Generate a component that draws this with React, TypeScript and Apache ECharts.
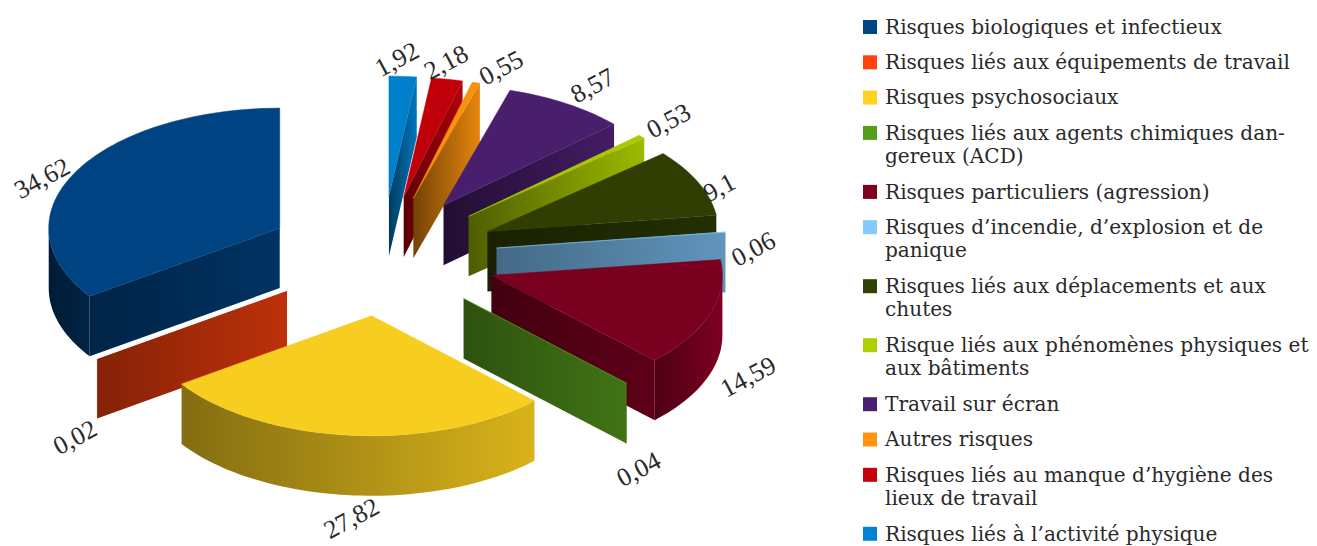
import React, { useEffect, useRef } from "react";
import * as echarts from "echarts";

const categories = [
  "Risques biologiques et infectieux",
  "Risques liés aux équipements de travail",
  "Risques psychosociaux",
  "Risques liés aux agents chimiques dan-\ngereux (ACD)",
  "Risques particuliers (agression)",
  "Risques d’incendie, d’explosion et de\npanique",
  "Risques liés aux déplacements et aux\nchutes",
  "Risque liés aux phénomènes physiques et\naux bâtiments",
  "Travail sur écran",
  "Autres risques",
  "Risques liés au manque d’hygiène des\nlieux de travail",
  "Risques liés à l’activité physique",
];
const values = [34.62, 0.02, 27.82, 0.04, 14.59, 0.06, 9.1, 0.53, 8.57, 0.55, 2.18, 1.92];
const colors = ["#004586", "#ff420e", "#ffd320", "#579d1c", "#7e0021", "#83caff", "#314004", "#aecf00", "#4b1f6f", "#ff950e", "#c5000b", "#0084d1"];
// Pixel nudges of the value labels from the rim of their slice
const labelNudgeX = [-33, -22, 1, 12, 38, 28, 21, 27, 26, 25, -1, -6];
const labelNudgeY = [6, 79, 83, 86, 63, 17, 5, -16, -18, -15, -17, -17];

const CX = 382, CY = 256, RX = 231, RY = 120, EXPLODE = 0.5, DEPTH = 60;
const SERIF = '"Liberation Serif", serif';
const LEGEND_SERIF = '"DejaVu Serif", serif';
const total = values.reduce((s, v) => s + v, 0);

function shade(hex: string, f: number) {
  const n = parseInt(hex.slice(1), 16);
  const c = [(n >> 16) & 255, (n >> 8) & 255, n & 255].map((x) => Math.round(x * f));
  return `rgb(${c[0]},${c[1]},${c[2]})`;
}
function hGrad(hex: string, left: number, right: number) {
  return {
    type: "linear", x: 0, y: 0, x2: 1, y2: 0,
    colorStops: [{ offset: 0, color: shade(hex, left) }, { offset: 1, color: shade(hex, right) }],
  };
}

// rows: [value, startAngle, endAngle, category index], painted from back to front
let acc = 0;
const rows = values
  .map((v, i) => {
    const a1 = (acc / total) * 2 * Math.PI;
    acc += v;
    const a2 = (acc / total) * 2 * Math.PI;
    return [v, a1, a2, i];
  })
  .sort((p, q) => -Math.cos((p[1] + p[2]) / 2) - -Math.cos((q[1] + q[2]) / 2));

const frontLight = (a: number) => 0.4 + (0.6 * (a - Math.PI / 2)) / Math.PI;
const rimLeft = (a: number) => (a < 1.2 * Math.PI ? frontLight(a) : 0.6);
const rimRight = (a: number) => (a < Math.PI ? frontLight(a) : a < 1.45 * Math.PI ? 0.85 : 1);

function renderItem(_params: any, api: any) {
  const v = api.value(0), a1 = api.value(1), a2 = api.value(2), i = api.value(3);
  const color = colors[i];
  const mid = (a1 + a2) / 2;
  const ox = CX - Math.sin(mid) * EXPLODE * RX;
  const oy = CY - Math.cos(mid) * EXPLODE * RY;
  const rim = (a: number, dz = 0) => [ox - Math.sin(a) * RX, oy - Math.cos(a) * RY + dz];
  const arc = (from: number, to: number, dz = 0) => {
    const n = Math.max(2, Math.ceil(Math.abs(to - from) / 0.03));
    const pts: number[][] = [];
    for (let k = 0; k <= n; k++) pts.push(rim(from + ((to - from) * k) / n, dz));
    return pts;
  };
  const children: any[] = [];
  const wall = (a: number) => ({
    type: "polygon",
    shape: { points: [[ox, oy], rim(a), rim(a, DEPTH), [ox, oy + DEPTH]] },
    style: { fill: a > 1.6 * Math.PI ? hGrad(color, 0.45, 0.9) : hGrad(color, 0.52, 0.74) },
  });
  if (Math.sin(a2) > 0) children.push(wall(a2));
  if (Math.sin(a1) < 0) children.push(wall(a1));
  const w1 = a1 < Math.PI / 2 ? Math.PI / 2 : a1;
  const w2 = a2 > 1.5 * Math.PI ? 1.5 * Math.PI : a2;
  if (w2 > w1 && w1 < 1.5 * Math.PI) {
    children.push({
      type: "polygon",
      shape: { points: [...arc(w1, w2), ...arc(w2, w1, DEPTH)] },
      style: { fill: hGrad(color, rimLeft(w1), rimRight(w2)) },
    });
  }
  children.push({
    type: "polygon",
    shape: { points: [[ox, oy], ...arc(a1, a2)] },
    style: {
      fill: shade(color, 0.97),
      stroke: v < 0.03 ? "#ffffff" : shade(color, 0.97),
      lineWidth: v < 0.03 ? 1.2 : 0.5,
    },
  });
  const outer = [CX - Math.sin(mid) * 1.5 * RX, CY - Math.cos(mid) * 1.5 * RY];
  children.push({
    type: "text",
    x: outer[0] + labelNudgeX[i],
    y: outer[1] + labelNudgeY[i],
    rotation: (28 * Math.PI) / 180,
    style: {
      text: String(v).replace(".", ","),
      font: `26px ${SERIF}`,
      fill: "#2a2a2a",
      align: "center",
      verticalAlign: "middle",
    },
  });
  return { type: "group", children };
}

function legendElements() {
  const out: any[] = [];
  let y = 27;
  categories.forEach((name, i) => {
    out.push({
      type: "rect",
      shape: { x: 863, y: y - 7, width: 14, height: 14 },
      style: { fill: colors[i] },
    });
    out.push({
      type: "text",
      x: 885,
      y: y - 12,
      style: { text: name, font: `20.1px ${LEGEND_SERIF}`, lineHeight: 23.5, fill: "#2a2a2a", verticalAlign: "top" },
    });
    y += name.includes("\n") ? 59 : 35.3;
  });
  return out;
}

export default function App() {
  const ref = useRef<HTMLDivElement>(null);
  useEffect(() => {
    const chart = echarts.init(ref.current!, undefined, { renderer: "svg" });
    chart.setOption({
      animation: false,
      backgroundColor: "#ffffff",
      graphic: legendElements(),
      series: [{ type: "custom", coordinateSystem: "none", silent: true, renderItem, data: rows }],
    });
    return () => chart.dispose();
  }, []);
  return <div ref={ref} style={{ position: "fixed", left: 0, top: 0, width: 1317, height: 546 }} />;
}
